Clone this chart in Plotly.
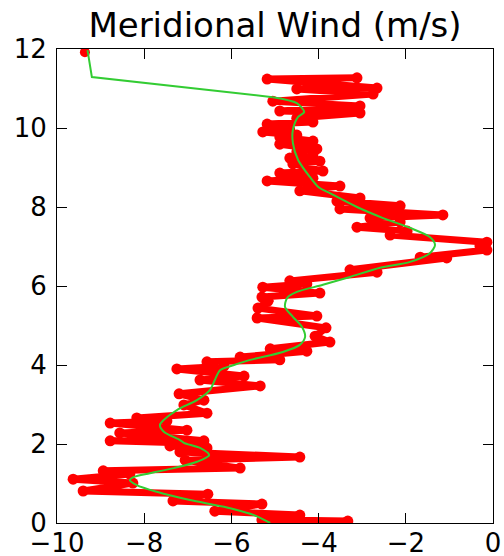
import plotly.graph_objects as go

red_x = [-3.33, -5.30, -4.43, -6.38, -5.30, -7.34, -6.54, -9.40, -8.26, -9.63,
         -8.33, -8.94, -5.80, -7.06, -4.43, -7.18, -6.56, -7.41, -7.18, -8.78,
         -6.63, -8.56, -7.02, -8.78, -7.48, -8.17, -6.56, -7.09, -6.63, -7.20,
         -5.34, -6.72, -5.71, -7.25, -6.17, -6.56, -4.89, -5.80, -4.27, -5.11,
         -3.74, -4.08, -3.83, -5.41, -4.04, -5.39, -5.16, -5.30, -3.97, -5.28,
         -4.27, -4.66, -2.66, -3.28, -1.06, -1.67, -0.14, -0.30, -0.14, -2.36,
         -1.97, -3.12, -2.13, -2.82, -1.15, -3.51, -2.13, -3.58, -3.05, -4.43,
         -3.51, -5.18, -4.13, -4.89, -3.90, -4.59, -3.97, -4.66, -4.13, -4.50,
         -4.04, -4.89, -4.13, -4.89, -4.50, -5.28, -4.66, -5.18, -4.13, -4.50,
         -3.05, -4.89, -3.05, -5.05, -2.75, -4.50, -2.66, -5.18, -3.12]
red_y = [0.05, 0.08, 0.20, 0.30, 0.48, 0.56, 0.73, 0.81, 1.01, 1.11,
         1.24, 1.32, 1.39, 1.59, 1.67, 1.80, 1.90, 1.95, 2.03, 2.08,
         2.08, 2.28, 2.35, 2.53, 2.58, 2.66, 2.78, 2.99, 3.11, 3.27,
         3.47, 3.62, 3.72, 3.90, 3.97, 4.08, 4.13, 4.20, 4.35, 4.41,
         4.58, 4.73, 4.94, 5.19, 5.24, 5.44, 5.62, 5.72, 5.82, 5.97,
         6.05, 6.13, 6.35, 6.41, 6.71, 6.73, 6.91, 7.01, 7.11, 7.29,
         7.39, 7.49, 7.62, 7.72, 7.80, 7.95, 8.03, 8.15, 8.23, 8.41,
         8.53, 8.66, 8.73, 8.86, 8.91, 9.09, 9.16, 9.24, 9.32, 9.39,
         9.47, 9.59, 9.67, 9.77, 9.82, 9.90, 9.95, 10.10, 10.15, 10.25,
         10.38, 10.43, 10.56, 10.68, 10.86, 10.99, 11.01, 11.24, 11.27]
top_x = [-9.36]
top_y = [11.92]

# Smoothed (green) profile
green_x = [-5.11, -5.48, -6.17, -6.95, -7.71, -8.17, -8.33, -8.23, -7.87, -7.32,
           -6.79, -6.51, -6.72, -7.09, -7.18, -7.55, -7.64, -7.55, -7.25, -6.79,
           -6.49, -6.38, -6.26, -5.94, -5.57, -4.82, -4.43, -4.31, -4.38, -4.59,
           -4.77, -4.72, -4.50, -3.90, -3.28, -2.59, -1.90, -1.45, -1.33, -1.45,
           -1.90, -2.52, -3.12, -3.74, -4.00, -4.20, -4.47, -4.59, -4.59, -4.47,
           -4.33, -4.50, -5.05]
green_y = [0.00, 0.20, 0.41, 0.58, 0.79, 0.96, 1.09, 1.17, 1.26, 1.39,
           1.55, 1.72, 1.90, 2.03, 2.10, 2.31, 2.48, 2.61, 2.86, 3.11,
           3.37, 3.62, 3.87, 4.00, 4.13, 4.33, 4.51, 4.71, 4.96, 5.22,
           5.47, 5.70, 5.85, 6.03, 6.23, 6.46, 6.61, 6.83, 7.04, 7.24,
           7.47, 7.72, 8.00, 8.35, 8.50, 8.76, 9.19, 9.62, 9.95, 10.28,
           10.40, 10.63, 10.78]
# straight upper part of the green profile (over the data gap)
green_top_x = [-5.05, -9.20, -9.30]
green_top_y = [10.78, 11.29, 11.97]

x_ticks = [-10, -8, -6, -4, -2, 0]
y_ticks = [0, 2, 4, 6, 8, 10, 12]

RED = "#ff0000"
GREEN = "#33cc33"

fig = go.Figure()
fig.add_trace(go.Scatter(x=red_x, y=red_y, mode="lines+markers",
                         line=dict(color=RED, width=7),
                         marker=dict(color=RED, size=11),
                         showlegend=False, hoverinfo="skip"))
fig.add_trace(go.Scatter(x=top_x, y=top_y, mode="markers",
                         marker=dict(color=RED, size=10),
                         showlegend=False, hoverinfo="skip"))
fig.add_trace(go.Scatter(x=green_x, y=green_y, mode="lines",
                         line=dict(color=GREEN, width=2, shape="spline", smoothing=0.8),
                         showlegend=False, hoverinfo="skip"))
fig.add_trace(go.Scatter(x=green_top_x, y=green_top_y, mode="lines",
                         line=dict(color=GREEN, width=2),
                         showlegend=False, hoverinfo="skip"))

axis_common = dict(showgrid=False, zeroline=False, showline=True, linecolor="black",
                   linewidth=1, mirror="ticks", ticks="inside", ticklen=10,
                   tickwidth=1, tickcolor="black", automargin=False,
                   tickfont=dict(family="DejaVu Sans", size=26, color="black"))

fig.update_layout(
    width=504, height=556,
    margin=dict(l=57, r=11, t=49, b=33),
    paper_bgcolor="white", plot_bgcolor="white",
    font=dict(family="DejaVu Sans", color="black"),
    title=dict(text="Meridional Wind (m/s)", x=0.5, xref="paper", xanchor="center",
               y=0.955, yref="container", yanchor="middle",
               font=dict(family="DejaVu Sans", size=34, color="black")),
    xaxis=dict(range=[-10, 0], tickvals=x_ticks, ticklabelstandoff=-3, **axis_common),
    yaxis=dict(range=[0, 12], tickvals=y_ticks, ticklabelstandoff=4, **axis_common),
)

fig.write_html("out.html")
